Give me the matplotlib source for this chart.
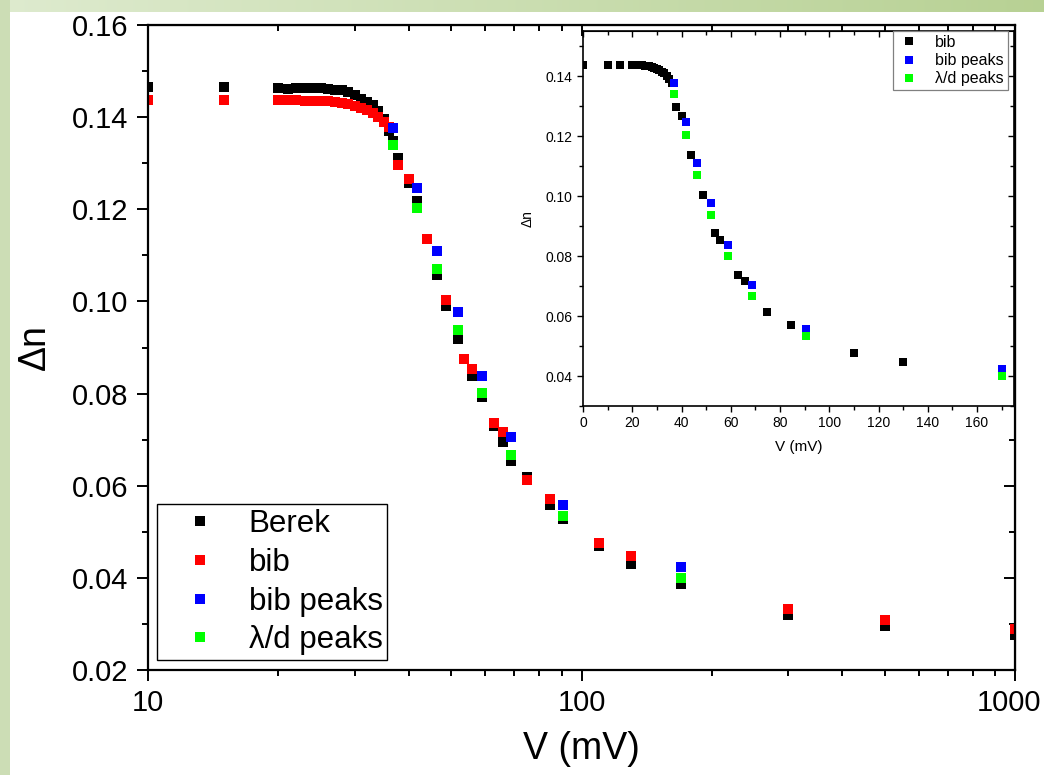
import numpy as np
import matplotlib
matplotlib.use("Agg")
import matplotlib.pyplot as plt
from matplotlib.ticker import MultipleLocator, NullFormatter
from matplotlib.transforms import ScaledTranslation

plt.rcParams['font.family'] = ['Liberation Sans', 'DejaVu Sans']

# ---------------- data ----------------
berek_V = [10, 15, 20, 21, 22, 23, 24, 25, 26, 27, 28, 29, 30, 31, 32, 33, 34, 35, 36,
           36.8, 37.8, 40, 41.8, 46.3, 48.6, 51.8, 55.8, 58.9, 62.8, 65.8, 68.8, 74.7,
           84.5, 90.6, 110, 130, 170, 300, 500, 1000]
berek_dn = [0.1466, 0.1466, 0.1464, 0.1462, 0.1464, 0.1463, 0.1463, 0.1463, 0.1462, 0.1460,
            0.1458, 0.1454, 0.1447, 0.1440, 0.1433, 0.1426, 0.1413, 0.1395, 0.1371,
            0.1348, 0.1311, 0.1258, 0.1219, 0.1057, 0.0990, 0.0919, 0.0838, 0.0792, 0.0729,
            0.0694, 0.0654, 0.0620, 0.0558, 0.0528, 0.0469, 0.0430, 0.0387, 0.0319, 0.0296,
            0.0277]

bib_V = [0, 10, 15, 20, 21, 22, 23, 24, 25, 26, 27, 28, 29, 30, 31, 32, 33, 34, 35, 36,
         37.8, 40, 44, 48.6, 53.7, 55.8, 62.8, 65.8, 74.7, 84.5, 110, 130, 300, 500, 1000]
bib_dn = [0.1438, 0.1437, 0.1437, 0.1437, 0.1437, 0.1437, 0.1436, 0.1436, 0.1435, 0.1434,
          0.1433, 0.1431, 0.1428, 0.1424, 0.1420, 0.1415, 0.1409, 0.1401, 0.1390, 0.1378,
          0.1296, 0.1266, 0.1136, 0.1003, 0.0876, 0.0853, 0.0736, 0.0716, 0.0612, 0.0571,
          0.0476, 0.0447, 0.0333, 0.0309, 0.0290]

peaks_V = [36.8, 41.8, 46.3, 51.8, 58.9, 68.8, 90.6, 170]
bib_peaks_dn = [0.1376, 0.1247, 0.1110, 0.0977, 0.0838, 0.0705, 0.0558, 0.0424]
ld_peaks_dn = [0.1339, 0.1203, 0.1071, 0.0937, 0.0801, 0.0667, 0.0534, 0.0400]

main_xticks = [10, 100, 1000]
main_xticklabels = ["10", "100", "1000"]

# ---------------- figure ----------------
W, H = 1044, 775
fig = plt.figure(figsize=(W / 100, H / 100), dpi=100)

# slide background (green border)
bg = fig.add_axes([0, 0, 1, 1], zorder=-10)
img = np.ones((H, W, 3))
t = np.linspace(0, 1, W)[None, :, None]
top_c = (1 - t) * np.array([0.87, 0.92, 0.81]) + t * np.array([0.72, 0.82, 0.58])
img[:12, :, :] = top_c
img[:, :10, :] = np.array([0.80, 0.87, 0.71])
bg.imshow(img, aspect='auto', extent=(0, 1, 0, 1), origin='upper')
bg.set_axis_off()

def px_axes(l, t_, r, b):
    return [l / W, 1 - b / H, (r - l) / W, (b - t_) / H]

# ---------------- main axes ----------------
ax = fig.add_axes(px_axes(148, 25, 1015, 670))
ms = 6.6
berek_mask = np.array(berek_V) > 0
bib_mask = np.array(bib_V) > 0
ax.plot(np.array(berek_V)[berek_mask], np.array(berek_dn)[berek_mask], 's', color='black',
        ms=ms, mew=0, label='Berek')
ax.plot(np.array(bib_V)[bib_mask], np.array(bib_dn)[bib_mask], 's', color='#ff0000',
        ms=ms, mew=0, label='bib')
ax.plot(peaks_V, bib_peaks_dn, 's', color='#0000ff', ms=ms, mew=0, label='bib peaks')
ax.plot(peaks_V, ld_peaks_dn, 's', color='#00ff00', ms=ms, mew=0, label='λ/d peaks')

ax.set_xscale('log')
ax.set_xlim(10, 1000)
ax.set_ylim(0.02, 0.16)
ax.set_xticks(main_xticks, labels=main_xticklabels)
ax.xaxis.set_minor_formatter(NullFormatter())
ax.yaxis.set_major_locator(MultipleLocator(0.02))
ax.yaxis.set_minor_locator(MultipleLocator(0.01))
ax.yaxis.set_major_formatter(matplotlib.ticker.FormatStrFormatter('%.2f'))
for s in ax.spines.values():
    s.set_linewidth(1.6)
ax.tick_params(which='both', direction='out', width=1.4, labelsize=21, pad=6)
ax.tick_params(which='major', length=8)
ax.tick_params(which='minor', length=4.5)
ax.set_xlabel('V (mV)', fontsize=27, labelpad=10)
ax.set_ylabel('Δn', fontsize=27, labelpad=14)
# nudge the last x label so it stays inside the picture, as in the original
last = ax.get_xticklabels()[-1]
last.set_transform(last.get_transform() + ScaledTranslation(-6 / 100, 0, fig.dpi_scale_trans))

secx = ax.secondary_xaxis('top')
secx.tick_params(which='both', direction='in', width=1.4, labeltop=False)
secx.tick_params(which='major', length=8)
secx.tick_params(which='minor', length=4.5)
secx.xaxis.set_major_formatter(NullFormatter())
secx.xaxis.set_minor_formatter(NullFormatter())
secy = ax.secondary_yaxis('right')
secy.yaxis.set_major_locator(MultipleLocator(0.02))
secy.yaxis.set_minor_locator(MultipleLocator(0.01))
secy.tick_params(which='both', direction='in', width=1.4, labelright=False)
secy.tick_params(which='major', length=8)
secy.tick_params(which='minor', length=4.5)

leg = ax.legend(loc='lower left', bbox_to_anchor=(0.0104, 0.0155), borderaxespad=0,
                fontsize=22.5, numpoints=1, handlelength=2.45, handletextpad=0.33,
                borderpad=0.15, labelspacing=0.28, fancybox=False, framealpha=1,
                edgecolor='black', markerscale=1.0)
leg.get_frame().set_linewidth(1.0)

# ---------------- inset ----------------
ax2 = fig.add_axes(px_axes(583, 31, 1014, 406), zorder=5)
ax2.set_facecolor('white')
ms2 = 5.2
ax2.plot(bib_V, bib_dn, 's', color='black', ms=ms2, mew=0, label='bib')
ax2.plot(peaks_V, bib_peaks_dn, 's', color='#0000ff', ms=ms2, mew=0, label='bib peaks')
ax2.plot(peaks_V, ld_peaks_dn, 's', color='#00ff00', ms=ms2, mew=0, label='λ/d peaks')
ax2.set_xlim(0, 175)
ax2.set_ylim(0.03, 0.155)
ax2.xaxis.set_major_locator(MultipleLocator(20))
ax2.xaxis.set_minor_locator(MultipleLocator(10))
ax2.set_yticks([0.04, 0.06, 0.08, 0.10, 0.12, 0.14])
ax2.yaxis.set_minor_locator(MultipleLocator(0.01))
ax2.yaxis.set_major_formatter(matplotlib.ticker.FormatStrFormatter('%.2f'))
for s in ax2.spines.values():
    s.set_linewidth(1.2)
ax2.tick_params(which='both', direction='out', width=1.0, labelsize=10, pad=3)
ax2.tick_params(which='major', length=4.5)
ax2.tick_params(which='minor', length=3)
ax2.set_xlabel('V (mV)', fontsize=11, labelpad=7)
ax2.set_ylabel('Δn', fontsize=10, labelpad=8)

sx2 = ax2.secondary_xaxis('top')
sx2.xaxis.set_major_locator(MultipleLocator(20))
sx2.xaxis.set_minor_locator(MultipleLocator(10))
sx2.tick_params(which='both', direction='in', width=1.0, labeltop=False)
sx2.tick_params(which='major', length=4.5)
sx2.tick_params(which='minor', length=3)
sy2 = ax2.secondary_yaxis('right')
sy2.yaxis.set_major_locator(MultipleLocator(0.02))
sy2.yaxis.set_minor_locator(MultipleLocator(0.01))
sy2.tick_params(which='both', direction='in', width=1.0, labelright=False)
sy2.tick_params(which='major', length=4.5)
sy2.tick_params(which='minor', length=3)

leg2 = ax2.legend(loc='upper right', bbox_to_anchor=(0.985, 1.0), borderaxespad=0,
                  fontsize=11.5, numpoints=1, handlelength=1.6, handletextpad=0.8,
                  borderpad=0.25, labelspacing=0.2, fancybox=False, framealpha=1,
                  edgecolor='#808080')
leg2.get_frame().set_linewidth(0.9)

fig.savefig('out.png', dpi=100)
